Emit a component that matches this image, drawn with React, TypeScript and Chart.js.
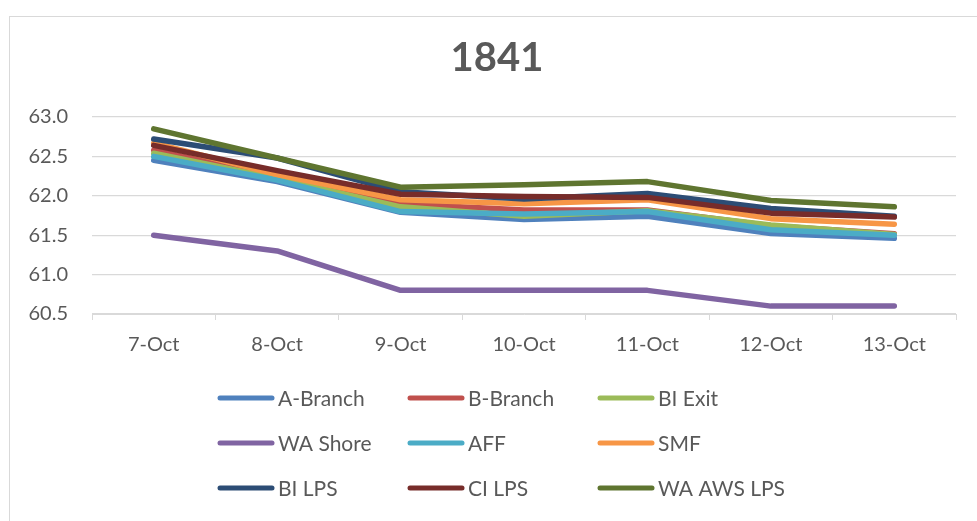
import React, { useEffect, useRef } from "react";
import { Chart, registerables } from "chart.js";

Chart.register(...registerables);

const categories = ["7-Oct", "8-Oct", "9-Oct", "10-Oct", "11-Oct", "12-Oct", "13-Oct"];
const seriesNames = ["A-Branch", "B-Branch", "BI Exit", "WA Shore", "AFF", "SMF", "BI LPS", "CI LPS", "WA AWS LPS"];
const aBranch = [62.45, 62.18, 61.79, 61.7, 61.74, 61.52, 61.46];
const bBranch = [62.58, 62.25, 61.9, 61.82, 61.82, 61.62, 61.52];
const biExit = [62.54, 62.22, 61.86, 61.74, 61.81, 61.63, 61.51];
const waShore = [61.5, 61.3, 60.8, 60.8, 60.8, 60.6, 60.6];
const aff = [62.5, 62.2, 61.8, 61.77, 61.8, 61.57, 61.5];
const smf = [62.67, 62.27, 61.95, 61.9, 61.95, 61.71, 61.64];
const biLps = [62.72, 62.48, 62.05, 61.96, 62.03, 61.84, 61.74];
const ciLps = [62.64, 62.32, 62.02, 61.99, 61.98, 61.78, 61.73];
const waAwsLps = [62.85, 62.48, 62.11, 62.14, 62.18, 61.94, 61.86];
const seriesValues = [aBranch, bBranch, biExit, waShore, aff, smf, biLps, ciLps, waAwsLps];
const seriesColors = ["#4F81BD", "#C0504D", "#9BBB59", "#8064A2", "#4BACC6", "#F79646", "#2C4D75", "#772C2A", "#5F7530"];
const chartTitle = "1841";
const yMin = 60.5;
const yMax = 63.0;
const yStep = 0.5;

const TEXT = "#595959";
const GRID = "#d9d9d9";
const FONT = "Lato, 'Open Sans', sans-serif";

const titleAndLegend = {
  id: "titleAndLegend",
  afterDraw(chart: any) {
    const ctx = chart.ctx;
    ctx.save();
    // title (centred over the full chart frame, which runs past the right edge)
    ctx.fillStyle = TEXT;
    ctx.font = "bold 40px " + FONT;
    ctx.textAlign = "center";
    ctx.textBaseline = "middle";
    ctx.fillText(chart.options.plugins.customTitle.text, 497, 58);
    // legend in a 3-column grid
    const cols = [218, 408, 598];
    const rows = [398, 443, 488];
    chart.data.datasets.forEach((ds: any, i: number) => {
      const x = cols[i % 3];
      const y = rows[Math.floor(i / 3)];
      ctx.strokeStyle = ds.borderColor;
      ctx.lineWidth = 5;
      ctx.lineCap = "round";
      ctx.beginPath();
      ctx.moveTo(x + 2, y);
      ctx.lineTo(x + 54, y);
      ctx.stroke();
      ctx.fillStyle = TEXT;
      ctx.font = "21px " + FONT;
      ctx.textBaseline = "middle";
      ctx.textAlign = "left";
      ctx.fillText(ds.label, x + 60, y + 1);
    });
    ctx.restore();
  },
};

export default function App() {
  const ref = useRef<HTMLCanvasElement | null>(null);

  useEffect(() => {
    let chart: Chart | null = null;
    let cancelled = false;
    const make = () => {
      if (cancelled || !ref.current) return;
      Chart.defaults.font.family = FONT;
      chart = new Chart(ref.current, {
        type: "line",
        data: {
          labels: categories,
          datasets: seriesNames.map((name, i) => ({
            label: name,
            data: seriesValues[i],
            borderColor: seriesColors[i],
            backgroundColor: seriesColors[i],
            borderWidth: 5.5,
            pointRadius: 0,
            tension: 0,
            borderCapStyle: "round" as const,
            borderJoinStyle: "round" as const,
            order: seriesNames.length - i,
          })),
        },
        options: {
          animation: false,
          responsive: false,
          maintainAspectRatio: false,
          layout: { padding: { left: 0, right: 21, top: 117, bottom: 164 } },
          plugins: {
            legend: { display: false },
            tooltip: { enabled: false },
            title: { display: false },
            customTitle: { text: chartTitle },
          } as any,
          scales: {
            x: {
              type: "category",
              offset: true,
              grid: {
                offset: true,
                drawOnChartArea: false,
                drawTicks: true,
                tickLength: 6,
                color: GRID,
              },
              border: { display: true, color: GRID, width: 1 },
              ticks: { color: TEXT, font: { size: 20, family: FONT }, padding: 13, maxRotation: 0 },
              afterFit: (s: any) => {
                s.height = 43;
              },
            },
            y: {
              min: yMin,
              max: yMax,
              ticks: {
                stepSize: yStep,
                color: TEXT,
                font: { size: 20, family: FONT },
                padding: 24,
                callback: (v: any) => Number(v).toFixed(1),
              },
              grid: { color: GRID, lineWidth: 1.3, drawTicks: false },
              border: { display: false },
              afterFit: (s: any) => {
                s.width = 92;
              },
            },
          },
        },
        plugins: [titleAndLegend],
      });
    };
    const fonts: any = (document as any).fonts;
    if (fonts && fonts.load) {
      Promise.all([fonts.load("20px Lato"), fonts.load("bold 40px Lato")]).then(make, make);
    } else {
      make();
    }
    return () => {
      cancelled = true;
      if (chart) chart.destroy();
    };
  }, []);

  return (
    <div style={{ position: "fixed", left: 0, top: 0, width: 977, height: 521, overflow: "hidden", background: "#fff" }}>
      <div
        style={{
          position: "absolute",
          left: 9,
          top: 16,
          width: 1100,
          height: 700,
          border: "1px solid #d9d9d9",
          boxSizing: "border-box",
        }}
      />
      <canvas ref={ref} width={977} height={521} style={{ position: "absolute", left: 0, top: 0, width: 977, height: 521 }} />
    </div>
  );
}
